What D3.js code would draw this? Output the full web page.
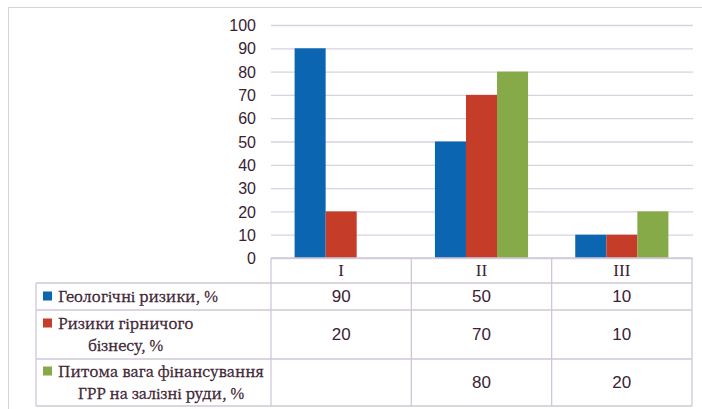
<!DOCTYPE html>
<html><head><meta charset="utf-8">
<script src="https://cdn.jsdelivr.net/npm/d3@7"></script>
<style>body{margin:0;background:#fff}svg{display:block}</style>
</head><body>
<svg id="c" width="702" height="409"></svg>
<script>
const categories = ["I", "II", "III"];
const seriesNames = [["Геологічні ризики, %"], ["Ризики гірничого", "бізнесу, %"], ["Питома вага фінансування", "ГРР на залізні руди, %"]];
const geoRisk = [90, 50, 10];
const miningRisk = [20, 70, 10];
const fundingShare = [null, 80, 20];
const yTicks = [0, 10, 20, 30, 40, 50, 60, 70, 80, 90, 100];
const colors = ["#0b65b1", "#c53d29", "#87aa48"];

const series = [geoRisk, miningRisk, fundingShare];
const svg = d3.select("#c");
const textColor = "#3a2232";
const gridColor = "#d8d2e0";
const serifFont = "'Liberation Serif', serif";
const legendFont = "'Noto Serif CJK SC', 'Liberation Serif', serif";
const sansFont = "'Liberation Sans', Arial, sans-serif";

svg.append("rect").attr("x", 8.5).attr("y", 7.5).attr("width", 700).attr("height", 410)
  .attr("fill", "none").attr("stroke", gridColor);

const plotL = 271, plotR = 692, plotT = 25, plotB = 258;
const y = d3.scaleLinear().domain([0, 100]).range([plotB, plotT]);
const x = d3.scaleBand().domain(categories).range([plotL, plotR]).paddingInner(0).paddingOuter(0);
const xs = d3.scaleBand().domain(d3.range(series.length)).range([0, x.bandwidth()]).paddingInner(0).paddingOuter(0.76);

const yAxis = d3.axisLeft(y).tickValues(yTicks).tickSize(-(plotR - plotL + 1)).tickPadding(16);
const gy = svg.append("g").attr("transform", `translate(${plotL},0)`).call(yAxis);
gy.select(".domain").remove();
gy.selectAll(".tick line").attr("stroke", gridColor).attr("stroke-width", 1.3);
gy.selectAll(".tick text").attr("fill", textColor).style("font-family", sansFont)
  .attr("font-size", "16px").attr("x", -15).attr("dy", "0.35em");

series.forEach((vals, si) => {
  svg.append("g").selectAll("rect").data(categories.map((c, i) => ({c, v: vals[i]})).filter(d => d.v != null))
    .join("rect")
    .attr("x", d => x(d.c) + xs(si))
    .attr("width", xs.bandwidth())
    .attr("y", d => y(d.v))
    .attr("height", d => y(0) - y(d.v))
    .attr("fill", colors[si]);
});

const rowTops = [258, 283, 310, 359, 406];
const legL = 36;
const tbl = svg.append("g").attr("stroke", "#cfc7d9").attr("stroke-width", 1.3).attr("fill", "none");
tbl.append("line").attr("x1", plotL).attr("x2", plotR).attr("y1", rowTops[0]).attr("y2", rowTops[0]);
for (let r = 1; r < rowTops.length; r++) {
  tbl.append("line").attr("x1", legL).attr("x2", plotR).attr("y1", rowTops[r]).attr("y2", rowTops[r]);
}
tbl.append("line").attr("x1", legL).attr("x2", legL).attr("y1", rowTops[1]).attr("y2", rowTops[4]);
[plotL, ...categories.map(c => x(c) + x.bandwidth())].forEach(xx => {
  tbl.append("line").attr("x1", xx).attr("x2", xx).attr("y1", rowTops[0]).attr("y2", rowTops[4]);
});

svg.append("g").selectAll("text").data(categories).join("text")
  .attr("x", d => x(d) + x.bandwidth() / 2).attr("y", (rowTops[0] + rowTops[1]) / 2)
  .attr("dy", "0.35em").attr("text-anchor", "middle")
  .style("font-family", serifFont).attr("font-size", "17px")
  .attr("fill", textColor).text(d => d);

// legend font size fitted so the longest line matches the reference width
const probe = svg.append("text").style("font-family", legendFont).attr("font-size", "18px").text(seriesNames[2][0]);
const legendSize = 18 * 206 / probe.node().getComputedTextLength();
probe.remove();

series.forEach((vals, si) => {
  const cy = (rowTops[si + 1] + rowTops[si + 2]) / 2;
  svg.append("g").selectAll("text").data(categories.map((c, i) => ({c, v: vals[i]})).filter(d => d.v != null))
    .join("text")
    .attr("x", d => x(d.c) + x.bandwidth() / 2).attr("y", cy).attr("dy", "0.35em")
    .attr("text-anchor", "middle").style("font-family", sansFont)
    .attr("font-size", "17px").attr("fill", textColor).text(d => d.v);

  const lines = seriesNames[si];
  const lh = 22;
  const y0 = cy - (lines.length - 1) * lh / 2;
  svg.append("rect").attr("x", 43).attr("y", y0 - 5).attr("width", 9).attr("height", 9).attr("fill", colors[si]);
  const t1 = svg.append("text").attr("x", 58).attr("y", y0).attr("dy", "0.35em")
    .style("font-family", legendFont).attr("font-size", legendSize + "px")
    .attr("fill", textColor).attr("stroke", textColor).attr("stroke-width", 0.35).text(lines[0]);
  if (lines.length > 1) {
    const w1 = t1.node().getComputedTextLength();
    svg.append("text").attr("x", 58 + w1 / 2).attr("y", y0 + lh).attr("dy", "0.35em")
      .attr("text-anchor", "middle")
      .style("font-family", legendFont).attr("font-size", legendSize + "px")
      .attr("fill", textColor).attr("stroke", textColor).attr("stroke-width", 0.35).text(lines[1]);
  }
});
</script>
</body></html>
